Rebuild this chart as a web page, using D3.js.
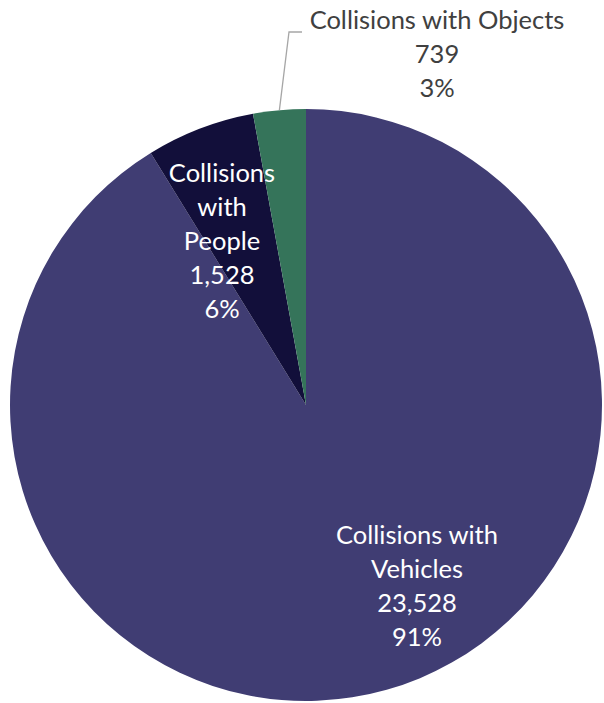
<!DOCTYPE html>
<html><head><meta charset="utf-8">
<script src="https://cdn.jsdelivr.net/npm/d3@7"></script>
<style>
html,body{margin:0;padding:0;background:#fff;}
text{font-family:Lato,"Open Sans",sans-serif;}
</style></head>
<body>
<svg id="chart" width="604" height="703"></svg>
<script>
const categories = ["Collisions with Vehicles", "Collisions with People", "Collisions with Objects"];
const values = [23528, 1528, 739];
const percentLabels = ["91%", "6%", "3%"];
const labelLines = [
  ["Collisions with", "Vehicles", "23,528", "91%"],
  ["Collisions", "with", "People", "1,528", "6%"],
  ["Collisions with Objects", "739", "3%"]
];
const colors = ["#403d73", "#120f3a", "#35745a"];

const svg = d3.select("#chart");
const cx = 306, cy = 405, r = 296;
const g = svg.append("g").attr("transform", `translate(${cx},${cy})`);

const pie = d3.pie().sort(null).value(d => d)(values);
const arc = d3.arc().innerRadius(0).outerRadius(r);

g.selectAll("path.slice").data(pie).enter().append("path")
  .attr("class", "slice")
  .attr("d", arc)
  .attr("fill", (d, i) => colors[i]);

// label anchors (layout, relative to centre; y = first baseline)
const labelPos = [
  {x: 111, y: 139, color: "#ffffff"},
  {x: -84, y: -223, color: "#ffffff"},
  {x: 131, y: -376, color: "#404040"}
];
const lineH = 34;
const fontSize = 25.5;

labelLines.forEach((lines, i) => {
  const p = labelPos[i];
  const t = g.append("text")
    .attr("text-anchor", "middle")
    .attr("font-size", fontSize)
    .attr("fill", p.color);
  lines.forEach((ln, j) => {
    t.append("tspan").attr("x", p.x).attr("y", p.y + j * lineH).text(ln);
  });
});

// leader line for the small slice
const objArc = pie[2];
const mid = (objArc.startAngle + objArc.endAngle) / 2;
const ex = r * Math.sin(mid), ey = -r * Math.cos(mid);
g.append("polyline")
  .attr("points", `${ex},${ey} ${-17},${-373} ${-4},${-373}`)
  .attr("fill", "none")
  .attr("stroke", "#a6a6a6")
  .attr("stroke-width", 1.3);
</script>
</body></html>
